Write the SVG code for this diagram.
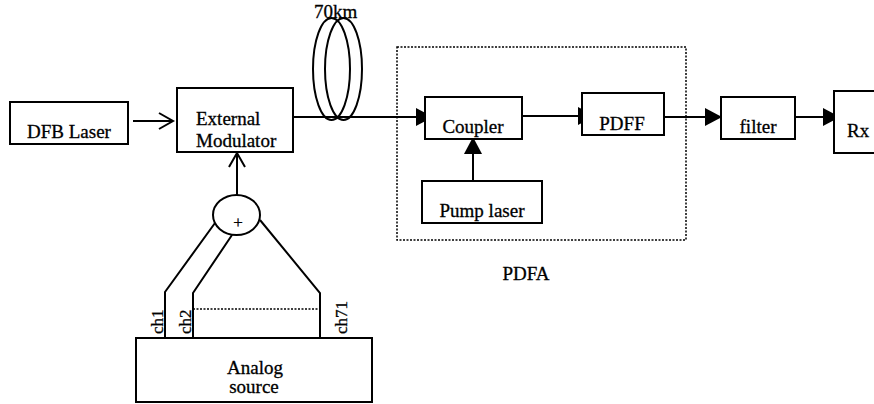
<svg xmlns="http://www.w3.org/2000/svg" width="874" height="404" viewBox="0 0 874 404">
<style>
.box{fill:#fff;stroke:#000;stroke-width:2}
.ln{fill:none;stroke:#000;stroke-width:2}
.dot{fill:none;stroke:#000;stroke-width:1.5;stroke-dasharray:2 1.5}
text{font-family:"Liberation Serif","Times New Roman",serif;font-size:19px;fill:#000;stroke:#000;stroke-width:0.3}
.c{text-anchor:middle}
.ch{font-size:17px}
</style>
<defs>
<marker id="tri" markerUnits="userSpaceOnUse" markerWidth="18" markerHeight="18" refX="17" refY="9" orient="auto" viewBox="0 0 18 18">
<path d="M0,0 L17,9 L0,18 z" fill="#000"/>
</marker>
<marker id="vee" markerUnits="userSpaceOnUse" markerWidth="18" markerHeight="20" refX="15" refY="9" orient="auto" viewBox="0 0 18 20">
<path d="M1,1 L15,9 L1,17" fill="none" stroke="#000" stroke-width="2"/>
</marker>
</defs>

<g id="pdfa-group">
<rect class="dot" x="397" y="47" width="289" height="193"/>
<text class="c" x="526" y="280">PDFA</text>
</g>

<g id="connectors">
<line class="ln" x1="133" y1="121" x2="173" y2="121" marker-end="url(#vee)"/>
<line class="ln" x1="237" y1="195" x2="237" y2="153" marker-end="url(#vee)"/>
<line class="ln" x1="293" y1="117" x2="433" y2="117" marker-end="url(#tri)"/>
<line class="ln" x1="522" y1="116" x2="595" y2="116" marker-end="url(#tri)"/>
<line class="ln" x1="664" y1="117" x2="722" y2="117" marker-end="url(#tri)"/>
<line class="ln" x1="795" y1="117" x2="840" y2="117" marker-end="url(#tri)"/>
<line class="ln" x1="473" y1="181" x2="473" y2="137" marker-end="url(#tri)"/>
<polyline class="ln" points="215,223 165,292 165,338"/>
<polyline class="ln" points="232,235 193,293 193,338"/>
<polyline class="ln" points="260,220 320,293 320,338"/>
<line class="dot" x1="193" y1="309" x2="320" y2="309"/>
</g>

<g id="fiber">
<ellipse class="ln" cx="331.5" cy="69" rx="18.5" ry="51"/>
<ellipse class="ln" cx="343.5" cy="69" rx="18.5" ry="51"/>
<text x="314" y="18">70km</text>
</g>

<g id="dfb">
<rect class="box" x="10" y="102" width="118" height="42"/>
<text class="c" x="69" y="138">DFB Laser</text>
</g>

<g id="modulator">
<rect class="box" x="177" y="88" width="116" height="64"/>
<text x="196" y="125">External</text>
<text x="196" y="147">Modulator</text>
</g>

<g id="summer">
<ellipse class="box" cx="236.5" cy="215" rx="23.5" ry="20"/>
<text class="c" x="238" y="228" style="font-size:17px">+</text>
</g>

<g id="analog">
<rect class="box" x="136" y="338" width="236" height="64"/>
<text class="c" x="255" y="374">Analog</text>
<text class="c" x="254" y="393">source</text>
<text class="ch" transform="translate(163,334) rotate(-90)">ch1</text>
<text class="ch" transform="translate(191,334) rotate(-90)">ch2</text>
<text class="ch" transform="translate(347,334) rotate(-90)">ch71</text>
</g>

<g id="coupler">
<rect class="box" x="425" y="97" width="97" height="42"/>
<text class="c" x="473" y="133">Coupler</text>
</g>

<g id="pump">
<rect class="box" x="422" y="181" width="120" height="42"/>
<text class="c" x="482" y="217">Pump laser</text>
</g>

<g id="pdff">
<rect class="box" x="582" y="93" width="82" height="42"/>
<text class="c" x="622" y="130">PDFF</text>
</g>

<g id="filter">
<rect class="box" x="721" y="97" width="74" height="42"/>
<text class="c" x="758" y="133">filter</text>
</g>

<g id="rx">
<rect class="box" x="834" y="91" width="50" height="62"/>
<text x="847" y="137">Rx</text>
</g>
</svg>
